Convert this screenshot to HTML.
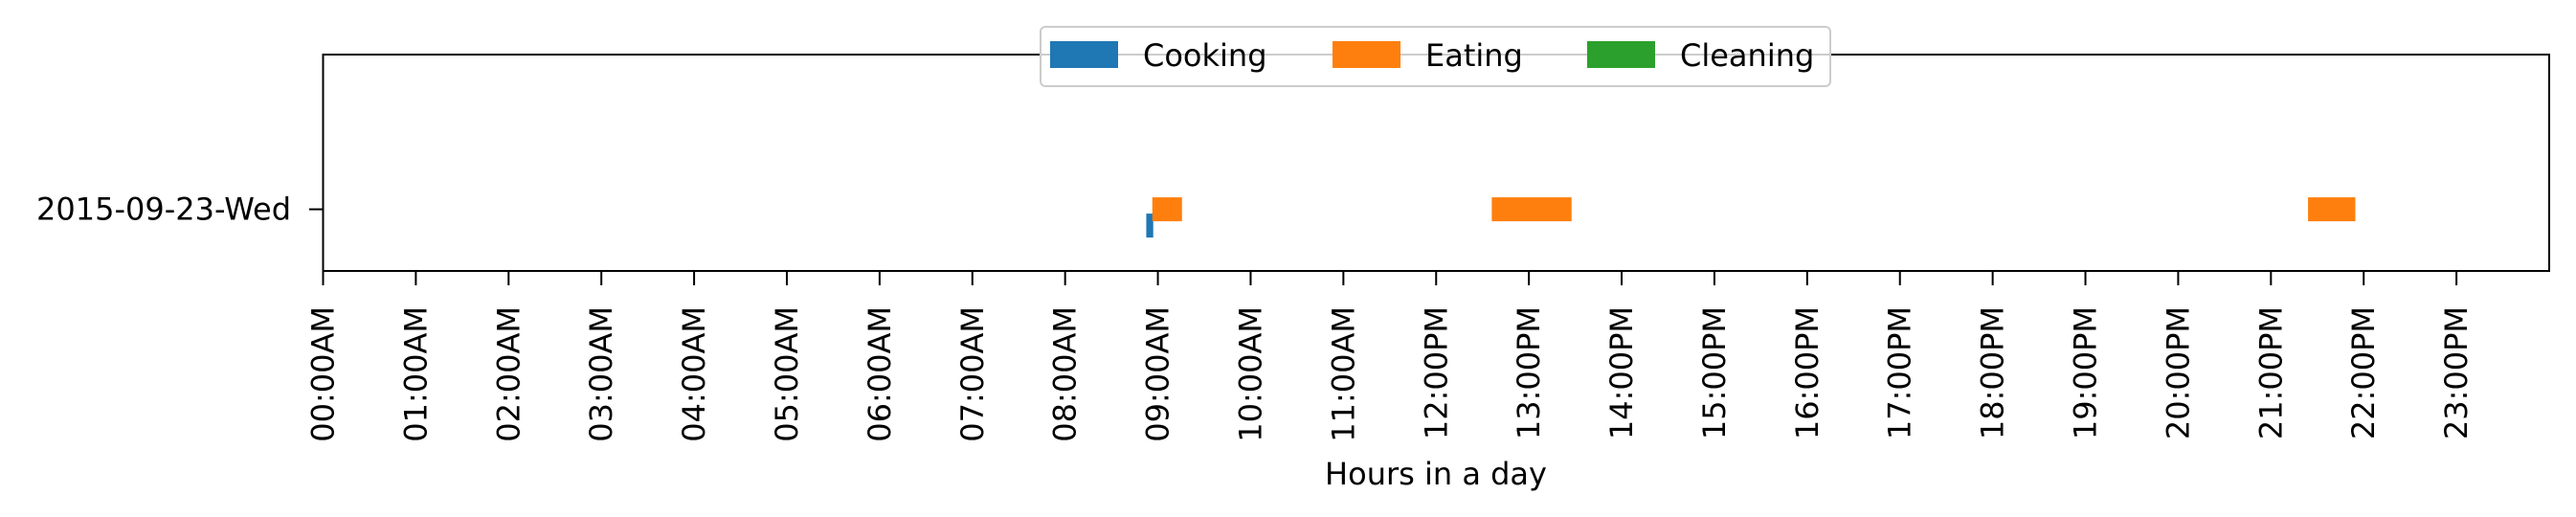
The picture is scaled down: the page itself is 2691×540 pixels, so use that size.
<!DOCTYPE html>
<html><head><meta charset="utf-8"><style>
html,body{margin:0;padding:0;background:#fff;}
svg{display:block;font-family:"DejaVu Sans","Liberation Sans",sans-serif;}
</style></head><body>
<svg id="chart" width="2691" height="540" viewBox="0 0 2691 540" xmlns="http://www.w3.org/2000/svg">
<rect width="2691" height="540" fill="#fff"/>
<g id="bars"></g>
<rect x="337.5" y="57" width="2325.5" height="226" fill="none" stroke="#000" stroke-width="2"/>
<g id="xaxis"></g>
<g id="yaxis"></g>
<text x="1500" y="506" font-size="32" text-anchor="middle">Hours in a day</text>
<g>
<rect x="1087" y="28" width="825" height="62" rx="5" fill="#fff" fill-opacity="0.8" stroke="#ccc" stroke-width="2"/>
<g>
<rect x="1097" y="43" width="71" height="28" fill="#1f77b4"/>
<text x="1194" y="69" font-size="32">Cooking</text></g>
<g>
<rect x="1392" y="43" width="71" height="28" fill="#ff7f0e"/>
<text x="1489" y="69" font-size="32">Eating</text></g>
<g>
<rect x="1658" y="43" width="71" height="28" fill="#2ca02c"/>
<text x="1755" y="69" font-size="32">Cleaning</text></g>
</g>
</svg>
<script>
const categories = ["2015-09-23-Wed"];
const activityNames = ["Cooking", "Eating", "Cleaning"];
const activityColors = ["#1f77b4", "#ff7f0e", "#2ca02c"];
const cookingStart = [8.875];
const cookingEnd = [8.95];
const eatingStart = [8.94, 12.60, 21.40];
const eatingEnd = [9.26, 13.46, 21.91];
const cleaningStart = [];
const cleaningEnd = [];
const tickLabels = ["00:00AM","01:00AM","02:00AM","03:00AM","04:00AM","05:00AM","06:00AM","07:00AM","08:00AM","09:00AM","10:00AM","11:00AM","12:00PM","13:00PM","14:00PM","15:00PM","16:00PM","17:00PM","18:00PM","19:00PM","20:00PM","21:00PM","22:00PM","23:00PM"];

const NS = "http://www.w3.org/2000/svg";
const X0 = 337.5, X1 = 2663, HMIN = 0, HMAX = 24;
function xScale(h){ return X0 + (h - HMIN) / (HMAX - HMIN) * (X1 - X0); }
function yScale(i){ return 218.6 + i * 100; }
const rowOffset = [17, 0, -17];
const barH = 25;

const bars = document.getElementById('bars');
function drawSeries(starts, ends, k){
  for (let j = 0; j < starts.length; j++) {
    const r = document.createElementNS(NS, 'rect');
    const x = xScale(starts[j]);
    r.setAttribute('x', x);
    r.setAttribute('width', Math.max(1, xScale(ends[j]) - x));
    r.setAttribute('y', yScale(0) + rowOffset[k] - barH / 2);
    r.setAttribute('height', barH);
    r.setAttribute('fill', activityColors[k]);
    
    
    bars.appendChild(r);
  }
}
drawSeries(cookingStart, cookingEnd, 0);
drawSeries(eatingStart, eatingEnd, 1);
drawSeries(cleaningStart, cleaningEnd, 2);

const xa = document.getElementById('xaxis');
tickLabels.forEach((lab, i) => {
  const x = xScale(i);
  const t = document.createElementNS(NS, 'line');
  t.setAttribute('x1', x); t.setAttribute('x2', x);
  t.setAttribute('y1', 283); t.setAttribute('y2', 298);
  t.setAttribute('stroke', '#000'); t.setAttribute('stroke-width', '2');
  
  
  xa.appendChild(t);
  const tx = document.createElementNS(NS, 'text');
  tx.setAttribute('transform', 'translate(' + (x + 11) + ',320) rotate(-90)');
  tx.setAttribute('text-anchor', 'end');
  tx.setAttribute('font-size', '32');
  tx.textContent = lab;
  
  
  xa.appendChild(tx);
});

const ya = document.getElementById('yaxis');
categories.forEach((c, i) => {
  const y = yScale(i);
  const t = document.createElementNS(NS, 'line');
  t.setAttribute('x1', 323); t.setAttribute('x2', 337.5);
  t.setAttribute('y1', y); t.setAttribute('y2', y);
  t.setAttribute('stroke', '#000'); t.setAttribute('stroke-width', '2');
  
  
  ya.appendChild(t);
  const tx = document.createElementNS(NS, 'text');
  tx.setAttribute('x', 304); tx.setAttribute('y', y + 11);
  tx.setAttribute('text-anchor', 'end');
  tx.setAttribute('font-size', '32');
  tx.textContent = c;
  
  
  ya.appendChild(tx);
});
</script>
</body></html>
